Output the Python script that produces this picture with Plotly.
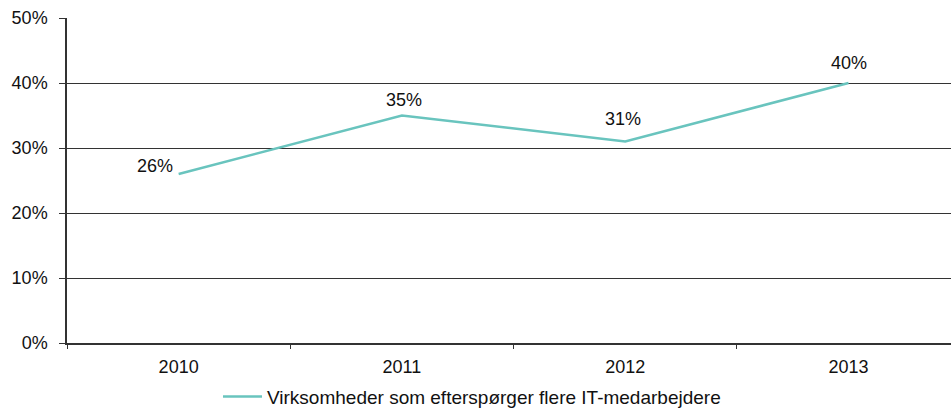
import plotly.graph_objects as go

years = ["2010", "2011", "2012", "2013"]
values = [0.26, 0.35, 0.31, 0.40]
labels = ["26%", "35%", "31%", "40%"]
series_name = "Virksomheder som efterspørger flere IT-medarbejdere"
ytick_vals = [0, 0.1, 0.2, 0.3, 0.4, 0.5]
ytick_text = ["0%", "10%", "20%", "30%", "40%", "50%"]

label_xshift = [-24, 2, -2, 0]
label_yshift = [8, 16, 23, 20]

FONT = "Liberation Sans, Arial, sans-serif"
TEAL = "#69C4BE"

fig = go.Figure()
fig.add_trace(go.Scatter(
    x=years, y=values, mode="lines", name=series_name,
    line=dict(color=TEAL, width=2.5), showlegend=True,
))

for i, (y, t, xs, ys) in enumerate(zip(values, labels, label_xshift, label_yshift)):
    fig.add_annotation(x=i, y=y, text=t, showarrow=False, xshift=xs, yshift=ys,
                       font=dict(family=FONT, size=18, color="#111"))

fig.update_layout(
    width=951, height=408,
    margin=dict(l=67, r=0, t=18, b=65, autoexpand=False),
    paper_bgcolor="white", plot_bgcolor="white",
    font=dict(family=FONT, size=18, color="#111"),
    showlegend=True,
    legend=dict(orientation="h", x=0.1708, xanchor="left", y=-0.165, yanchor="middle",
                itemwidth=39,
                font=dict(family=FONT, size=19, color="#111"), bgcolor="rgba(0,0,0,0)"),
    xaxis=dict(type="category", range=[-0.5, 3.459], showgrid=False, automargin=False,
               showline=True, linecolor="#333", linewidth=1.5,
               ticks="outside", tickson="boundaries", ticklen=4, tickcolor="#333",
               ticklabelstandoff=7,
               tickfont=dict(family=FONT, size=18, color="#111")),
    yaxis=dict(range=[0, 0.5], tickvals=ytick_vals, ticktext=ytick_text, automargin=False,
               showgrid=True, gridcolor="#333", gridwidth=1,
               showline=True, linecolor="#333", linewidth=1.5,
               ticks="outside", ticklen=6, tickcolor="#333", zeroline=False,
               ticklabelstandoff=8,
               tickfont=dict(family=FONT, size=18, color="#111")),
)

fig.write_html("out.html", config={"displayModeBar": False},
               post_script="document.body.style.margin='0px';document.body.style.overflow='hidden';")
